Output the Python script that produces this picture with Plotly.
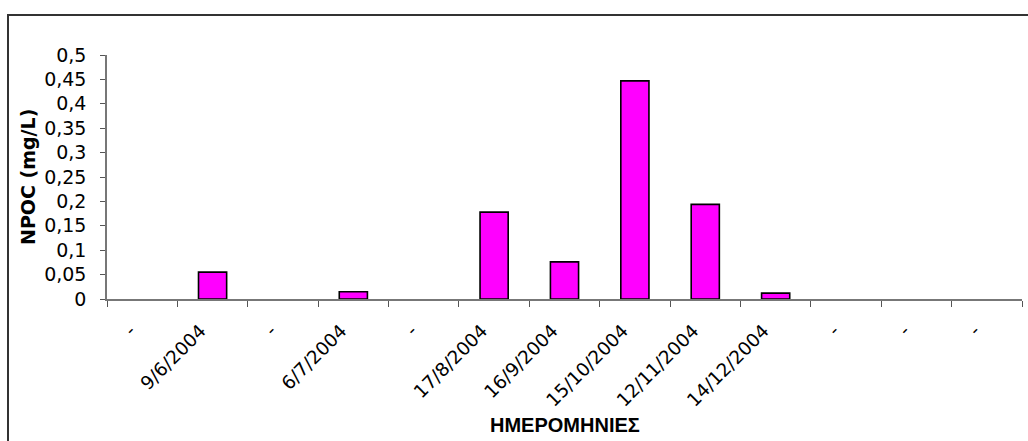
import plotly.graph_objects as go

# Sampling dates ("-" marks a slot with no sample) and NPOC readings in mg/L
dates = ["-", "9/6/2004", "-", "6/7/2004", "-", "17/8/2004", "16/9/2004",
         "15/10/2004", "12/11/2004", "14/12/2004", "-", "-", "-"]
npoc = [None, 0.055, None, 0.015, None, 0.178, 0.076, 0.447, 0.194, 0.012,
        None, None, None]
y_ticks = [0, 0.05, 0.1, 0.15, 0.2, 0.25, 0.3, 0.35, 0.4, 0.45, 0.5]

W, H = 1028, 441
ML, MR, MT, MB = 107, 6, 55, 142
PW, PH = W - ML - MR, H - MT - MB

# unique slot ids so repeated "-" labels stay as separate categories
slots = [f"s{i}" for i in range(len(dates))]


def px_to_paper_x(px):
    return (px - ML) / PW


def px_to_paper_y(py):
    return (H - MB - py) / PH


fig = go.Figure(
    go.Bar(
        x=slots,
        y=npoc,
        marker=dict(color="#FF00FF", line=dict(color="#000000", width=1.6)),
        showlegend=False,
    )
)

fig.update_layout(
    width=W,
    height=H,
    margin=dict(l=ML, r=MR, t=MT, b=MB, pad=0),
    paper_bgcolor="white",
    plot_bgcolor="white",
    separators=", ",
    bargap=0.6,
    font=dict(family="DejaVu Sans", size=18, color="#000000"),
)

fig.update_xaxes(
    type="category",
    categoryorder="array",
    categoryarray=slots,
    tickmode="array",
    tickvals=slots,
    ticktext=dates,
    tickson="boundaries",
    tickangle=-45,
    ticks="outside",
    ticklen=6,
    tickcolor="#555555",
    showline=True,
    linecolor="#777777",
    linewidth=1.5,
    showgrid=False,
    zeroline=False,
    ticklabelshift=-12,
    ticklabelstandoff=12,
    tickfont=dict(family="DejaVu Sans", size=18.5),
)

fig.update_yaxes(
    range=[0, 0.5],
    tickmode="array",
    tickvals=y_ticks,
    ticktext=[str(v).replace(".", ",") for v in y_ticks],
    ticks="outside",
    ticklen=5,
    tickcolor="#555555",
    showline=True,
    linecolor="#777777",
    linewidth=1.5,
    showgrid=False,
    zeroline=False,
    ticklabelstandoff=10,
    tickfont=dict(family="DejaVu Sans", size=19),
)

fig.add_annotation(
    text="NPOC (mg/L)",
    xref="paper", yref="paper",
    x=px_to_paper_x(28), y=0.5,
    xanchor="center", yanchor="middle",
    textangle=-90, showarrow=False,
    font=dict(family="DejaVu Sans", size=19, color="#000000", weight="bold"),
)
fig.add_annotation(
    text="ΗΜΕΡΟΜΗΝΙΕΣ",
    xref="paper", yref="paper",
    x=0.5, y=px_to_paper_y(425),
    xanchor="center", yanchor="middle",
    showarrow=False,
    font=dict(family="Liberation Sans", size=20, color="#000000", weight="bold"),
)

# chart frame
fig.add_shape(
    type="rect", xref="paper", yref="paper",
    x0=px_to_paper_x(8), x1=px_to_paper_x(W + 20),
    y0=px_to_paper_y(H + 20), y1=px_to_paper_y(15),
    line=dict(color="#333333", width=2),
    fillcolor="rgba(0,0,0,0)",
    layer="below",
)

fig.write_html("out.html")
